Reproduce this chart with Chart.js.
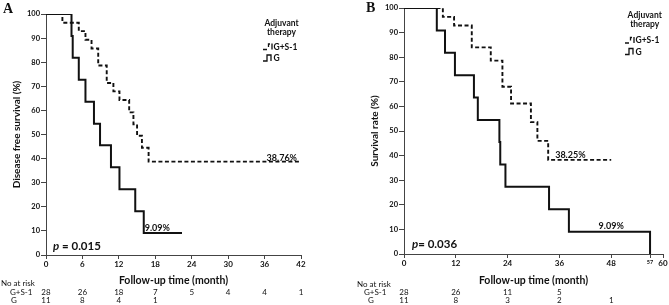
<!DOCTYPE html>
<html>
<head>
<meta charset="utf-8">
<script src="https://cdn.jsdelivr.net/npm/chart.js@4.4.1/dist/chart.umd.min.js"></script>
<style>
  html, body { margin: 0; padding: 0; background: #fff; }
  #wrap { position: relative; width: 669px; height: 305px; }
  canvas { position: absolute; top: 0; }
</style>
</head>
<body>
<div id="wrap">
  <canvas id="chartA" width="335" height="305" style="left:0"></canvas>
  <canvas id="chartB" width="334" height="305" style="left:335px"></canvas>
</div>
<script>
// ---- data ----
const seriesNames = ['G+S-1', 'G'];
const legendTitle = ['Adjuvant', 'therapy'];

// panel A: disease free survival
const monthsA_gs1 = [0, 2.7, 5.4, 6.5, 7.5, 8.6, 10.0, 11.1, 12.1, 13.7, 14.4, 15.0, 15.8, 16.9, 42];
const survA_gs1 = [100, 96.4, 92.9, 89.3, 85.7, 78.6, 71.4, 67.9, 64.3, 59.2, 54.2, 49.5, 44.5, 38.76, 38.76];
const monthsA_g = [0, 4.2, 4.4, 5.4, 6.5, 7.9, 8.9, 10.7, 12.1, 14.7, 16.1, 22.4];
const survA_g = [100, 90.9, 81.8, 72.7, 63.6, 54.5, 45.5, 36.4, 27.3, 18.2, 9.09, 9.09];
const xTicksA = [0, 6, 12, 18, 24, 30, 36, 42];
const riskA_gs1 = [28, 26, 18, 7, 5, 4, 4, 1];
const riskA_g = [11, 8, 4, 1];
const pValueA = '0.015';
const endLabelsA = ['38.76%', '9.09%'];

// panel B: overall survival
const monthsB_gs1 = [0, 9.0, 11.6, 15.7, 20.1, 22.8, 24.8, 29.4, 30.9, 33.4, 48];
const survB_gs1 = [100, 96.4, 92.9, 84.0, 78.6, 68.0, 61.2, 53.6, 46.0, 38.25, 38.25];
const monthsB_g = [0, 7.6, 9.5, 11.8, 16.2, 17.1, 22.1, 22.3, 23.5, 33.6, 38.2, 57];
const survB_g = [100, 90.9, 81.8, 72.7, 63.6, 54.5, 45.5, 36.4, 27.3, 18.2, 9.09, 0];
const xTicksB = [0, 12, 24, 36, 48, 57, 60];
const riskTicksB = [0, 12, 24, 36, 48];
const riskB_gs1 = [28, 26, 11, 5];
const riskB_g = [11, 8, 3, 2, 1];
const pValueB = '0.036';
const endLabelsB = ['38.25%', '9.09%'];

const yTicks = [0, 10, 20, 30, 40, 50, 60, 70, 80, 90, 100];

const FONT = 'Lato, "Open Sans", sans-serif';
const INK = '#111';
const AXIS = '#444';

function zip(xs, ys) {
  return xs.map((x, i) => ({ x: x, y: ys[i] }));
}

// step-shaped legend glyph, dashed for G+S-1, solid for G
function drawGlyph(ctx, x0, y, dashed) {
  ctx.save();
  ctx.strokeStyle = INK;
  ctx.lineWidth = 1.3;
  ctx.beginPath();
  if (dashed) {
    ctx.moveTo(x0, y + 3); ctx.lineTo(x0 + 4, y + 3);
    ctx.moveTo(x0 + 5.5, y + 0.5); ctx.lineTo(x0 + 5.5, y - 2.5); ctx.lineTo(x0 + 7, y - 2.5);
    ctx.moveTo(x0 + 9, y - 3); ctx.lineTo(x0 + 9, y + 3);
  } else {
    ctx.moveTo(x0, y + 3); ctx.lineTo(x0 + 4, y + 3); ctx.lineTo(x0 + 4, y - 3);
    ctx.lineTo(x0 + 8, y - 3); ctx.lineTo(x0 + 8, y + 3);
  }
  ctx.stroke();
  ctx.restore();
}

const kmExtras = {
  id: 'kmExtras',
  afterDraw(chart, args, o) {
    const ctx = chart.ctx;
    const xs = chart.scales.x, ys = chart.scales.y;
    ctx.save();
    ctx.fillStyle = INK;

    // panel letter
    ctx.font = 'bold 14px "Liberation Serif", "DejaVu Serif", serif';
    ctx.textBaseline = 'middle';
    ctx.textAlign = 'left';
    ctx.fillText(o.letter, o.letterAt[0], o.letterAt[1]);

    // legend
    ctx.font = 'bold 8.5px ' + FONT;
    ctx.textAlign = 'center';
    ctx.fillText(legendTitle[0], o.legend.cx, o.legend.y0);
    ctx.fillText(legendTitle[1], o.legend.cx, o.legend.y0 + 9.5);
    ctx.textAlign = 'left';
    seriesNames.forEach((name, i) => {
      const yy = o.legend.y1 + i * o.legend.gap;
      drawGlyph(ctx, o.legend.x0, yy, i === 0);
      ctx.fillText(name, o.legend.x0 + 10.5, yy + 0.5);
    });

    // p value
    ctx.font = 'italic bold 11.5px ' + FONT;
    ctx.fillText('p', o.pAt[0], o.pAt[1]);
    const pw = ctx.measureText('p').width;
    ctx.font = 'bold 11.5px ' + FONT;
    ctx.fillText(o.pGap + o.pText, o.pAt[0] + pw, o.pAt[1]);

    // end-of-curve percentages
    ctx.font = 'bold 9px ' + FONT;
    ctx.textBaseline = 'alphabetic';
    o.ends.forEach(e => {
      ctx.textAlign = e.align;
      ctx.fillText(e.text, xs.getPixelForValue(e.month) + e.dx, ys.getPixelForValue(e.value) - e.lift);
    });

    // number at risk table
    ctx.font = '8px ' + FONT;
    ctx.textBaseline = 'middle';
    ctx.textAlign = 'left';
    ctx.fillText('No at risk', o.risk.labelX[0], o.risk.rowY[0]);
    ctx.fillText(seriesNames[0], o.risk.labelX[1], o.risk.rowY[1]);
    ctx.fillText(seriesNames[1], o.risk.labelX[2], o.risk.rowY[2]);
    ctx.textAlign = 'center';
    o.risk.rows.forEach((row, r) => {
      row.forEach((n, i) => {
        ctx.fillText(String(n), xs.getPixelForValue(o.risk.ticks[i]), o.risk.rowY[r + 1]);
      });
    });
    ctx.restore();
  }
};

function makeKM(canvasId, p) {
  return new Chart(document.getElementById(canvasId), {
    type: 'line',
    data: {
      datasets: [
        {
          label: seriesNames[0],
          data: zip(p.gs1Months, p.gs1Surv),
          stepped: 'before',
          borderColor: INK,
          borderWidth: 1.9,
          borderDash: [4, 2.5],
          pointRadius: 0,
          fill: false
        },
        {
          label: seriesNames[1],
          data: zip(p.gMonths, p.gSurv),
          stepped: 'before',
          borderColor: INK,
          borderWidth: 2,
          pointRadius: 0,
          fill: false
        }
      ]
    },
    options: {
      responsive: false,
      animation: false,
      layout: { padding: p.padding },
      plugins: {
        legend: { display: false },
        tooltip: { enabled: false },
        kmExtras: p.extras
      },
      scales: {
        x: {
          type: 'linear',
          min: 0,
          max: p.xMax,
          afterBuildTicks: s => { s.ticks = p.xTicks.map(v => ({ value: v })); },
          afterFit: s => { s.height = p.xAxisHeight; },
          grid: { drawOnChartArea: false, drawTicks: true, tickLength: 4, color: AXIS },
          border: { display: true, color: AXIS, width: 1 },
          ticks: {
            color: INK,
            padding: 1,
            maxRotation: 0,
            autoSkip: false,
            font: c => ({ family: FONT, weight: 'bold', size: c.tick && c.tick.value === 57 ? 5.5 : 8 })
          },
          title: {
            display: true,
            text: 'Follow-up time (month)',
            color: INK,
            font: { family: FONT, weight: 'bold', size: 10.5 },
            padding: { top: 0, bottom: 18 }
          }
        },
        y: {
          min: 0,
          max: 100,
          afterBuildTicks: s => { s.ticks = yTicks.map(v => ({ value: v })); },
          afterFit: s => { s.width = p.yAxisWidth; },
          grid: { drawOnChartArea: false, drawTicks: true, tickLength: 5, color: AXIS },
          border: { display: true, color: AXIS, width: 1 },
          ticks: {
            color: INK,
            padding: 1,
            font: { family: FONT, weight: 'bold', size: 7.5 }
          },
          title: {
            display: true,
            text: p.yTitle,
            color: INK,
            font: { family: FONT, weight: 'bold', size: 10 },
            padding: { top: p.yTitlePad, bottom: 0 }
          }
        }
      }
    },
    plugins: [kmExtras]
  });
}

makeKM('chartA', {
  gs1Months: monthsA_gs1, gs1Surv: survA_gs1,
  gMonths: monthsA_g, gSurv: survA_g,
  xMax: 42, xTicks: xTicksA,
  padding: { left: 0, top: 14, right: 34, bottom: 0 },
  xAxisHeight: 50, yAxisWidth: 46,
  yTitle: 'Disease free survival (%)', yTitlePad: 11,
  extras: {
    letter: 'A', letterAt: [3, 9],
    legend: { cx: 281.5, y0: 23, x0: 263, y1: 46.5, gap: 11.5 },
    pAt: [53, 246], pGap: ' = ', pText: pValueA,
    ends: [
      { text: endLabelsA[0], month: 42, value: survA_gs1[survA_gs1.length - 1], align: 'right', dx: -4, lift: 1 },
      { text: endLabelsA[1], month: 16.1, value: survA_g[survA_g.length - 1], align: 'left', dx: 1, lift: 2.5 }
    ],
    risk: {
      labelX: [1, 10, 11], rowY: [283.5, 292, 300.5],
      ticks: xTicksA, rows: [riskA_gs1, riskA_g]
    }
  }
});

makeKM('chartB', {
  gs1Months: monthsB_gs1, gs1Surv: survB_gs1,
  gMonths: monthsB_g, gSurv: survB_g,
  xMax: 60, xTicks: xTicksB,
  padding: { left: 0, top: 8, right: 6, bottom: 0 },
  xAxisHeight: 51, yAxisWidth: 69,
  yTitle: 'Survival rate (%)', yTitlePad: 34,
  extras: {
    letter: 'B', letterAt: [31, 8],
    legend: { cx: 309.7, y0: 15, x0: 290, y1: 40, gap: 11.5 },
    pAt: [77, 244], pGap: '= ', pText: pValueB,
    ends: [
      { text: endLabelsB[0], month: 33.4, value: survB_gs1[survB_gs1.length - 1], align: 'left', dx: 7, lift: 2 },
      { text: endLabelsB[1], month: 48, value: 9.09, align: 'center', dx: 0, lift: 2.5 }
    ],
    risk: {
      labelX: [22, 29, 33], rowY: [284, 292, 300.5],
      ticks: riskTicksB, rows: [riskB_gs1, riskB_g]
    }
  }
});
</script>
</body>
</html>
